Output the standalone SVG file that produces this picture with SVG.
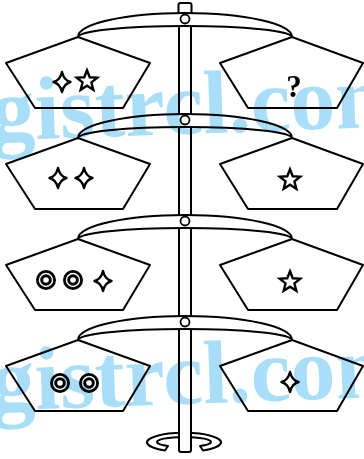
<svg xmlns="http://www.w3.org/2000/svg" xmlns:xlink="http://www.w3.org/1999/xlink" width="364" height="459" viewBox="0 0 364 459">
  <style>
    .ln { stroke: #000; stroke-width: 2; fill: #fff; stroke-linejoin: round; }
    .pin { stroke: #000; stroke-width: 1.8; fill: #fff; }
    .wm { font-family: "Liberation Serif", "DejaVu Serif", serif; font-weight: bold; font-size: 90px; fill: #a9def9; mix-blend-mode: multiply; }
    .q { font-family: "Liberation Serif", serif; font-weight: bold; font-size: 31px; fill: #000; }
  </style>
  <defs>
    <!-- four-pointed star with curved sides -->
    <path id="spark" d="M0,-10 Q1.8,-1.8 8.5,0 Q1.8,1.8 0,10 Q-1.8,1.8 -8.5,0 Q-1.8,-1.8 0,-10 Z" fill="#fff" stroke="#000" stroke-width="2.4" stroke-linejoin="round"/>
    <!-- five-pointed outline star -->
    <polygon id="star" transform="scale(1.08)" points="0,-10 2.53,-3.48 9.51,-3.09 4.09,1.33 5.88,8.09 0,4.3 -5.88,8.09 -4.09,1.33 -9.51,-3.09 -2.53,-3.48" fill="#fff" stroke="#000" stroke-width="2.2" stroke-linejoin="miter"/>
    <!-- concentric ring target -->
    <g id="target">
      <circle r="10" fill="#000"/>
      <circle r="6.5" fill="none" stroke="#fff" stroke-width="1.4"/>
      <circle r="2.8" fill="#fff"/>
    </g>
    <!-- balance beam -->
    <g id="beam">
      <path class="ln" d="M78,37 A107,24 0 0 1 292,37 A107,11 0 0 0 78,37 Z"/>
    </g>
    <!-- pair of pans -->
    <g id="pans">
      <polygon class="ln" points="78,37 150,63 123,108 35,108 6,63"/>
      <polygon class="ln" points="292,37 363,63 337,108 248,108 220,63"/>
    </g>
  </defs>

  <g id="stand">
    <!-- base ring -->
    <path class="ln" d="M165,450.5 A37,9.5 0 1 1 203,450.5 L200,446 A27,5 0 1 0 168,446 Z"/>
    <!-- post -->
    <rect class="ln" x="179" y="12" width="12" height="440" rx="2"/>
    <!-- top cap -->
    <rect class="ln" x="178.5" y="3" width="13" height="11" rx="2"/>
  </g>

  <g id="connectors">
    <use xlink:href="#beam"/>
    <use xlink:href="#beam" y="101"/>
    <use xlink:href="#beam" y="202"/>
    <use xlink:href="#beam" y="303"/>
    <circle class="pin" cx="185" cy="19" r="4.5"/>
    <circle class="pin" cx="185" cy="120" r="4.5"/>
    <circle class="pin" cx="185" cy="221" r="4.5"/>
    <circle class="pin" cx="185" cy="322" r="4.5"/>
  </g>

  <g id="tier1">
    <use xlink:href="#pans"/>
    <use xlink:href="#spark" x="62" y="82"/>
    <use xlink:href="#star" x="87" y="81"/>
    <text class="q" x="294" y="97" text-anchor="middle">?</text>
  </g>

  <g id="tier2">
    <use xlink:href="#pans" y="101"/>
    <use xlink:href="#spark" x="58" y="178"/>
    <use xlink:href="#spark" x="84" y="178"/>
    <use xlink:href="#star" x="290" y="180"/>
  </g>

  <g id="tier3">
    <use xlink:href="#pans" y="202"/>
    <use xlink:href="#target" x="46" y="280"/>
    <use xlink:href="#target" x="73" y="280"/>
    <use xlink:href="#spark" x="103" y="281"/>
    <use xlink:href="#star" x="290" y="282"/>
  </g>

  <g id="tier4">
    <use xlink:href="#pans" y="303"/>
    <use xlink:href="#target" x="60" y="383"/>
    <use xlink:href="#target" x="89" y="383"/>
    <use xlink:href="#spark" x="290" y="382"/>
  </g>

  <g id="watermark">
    <text class="wm" x="-10" y="134" transform="rotate(-2 180 115)">gistrcl.com</text>
    <text class="wm" x="-10" y="404" transform="rotate(-2 180 385)">gistrcl.com</text>
  </g>
</svg>
